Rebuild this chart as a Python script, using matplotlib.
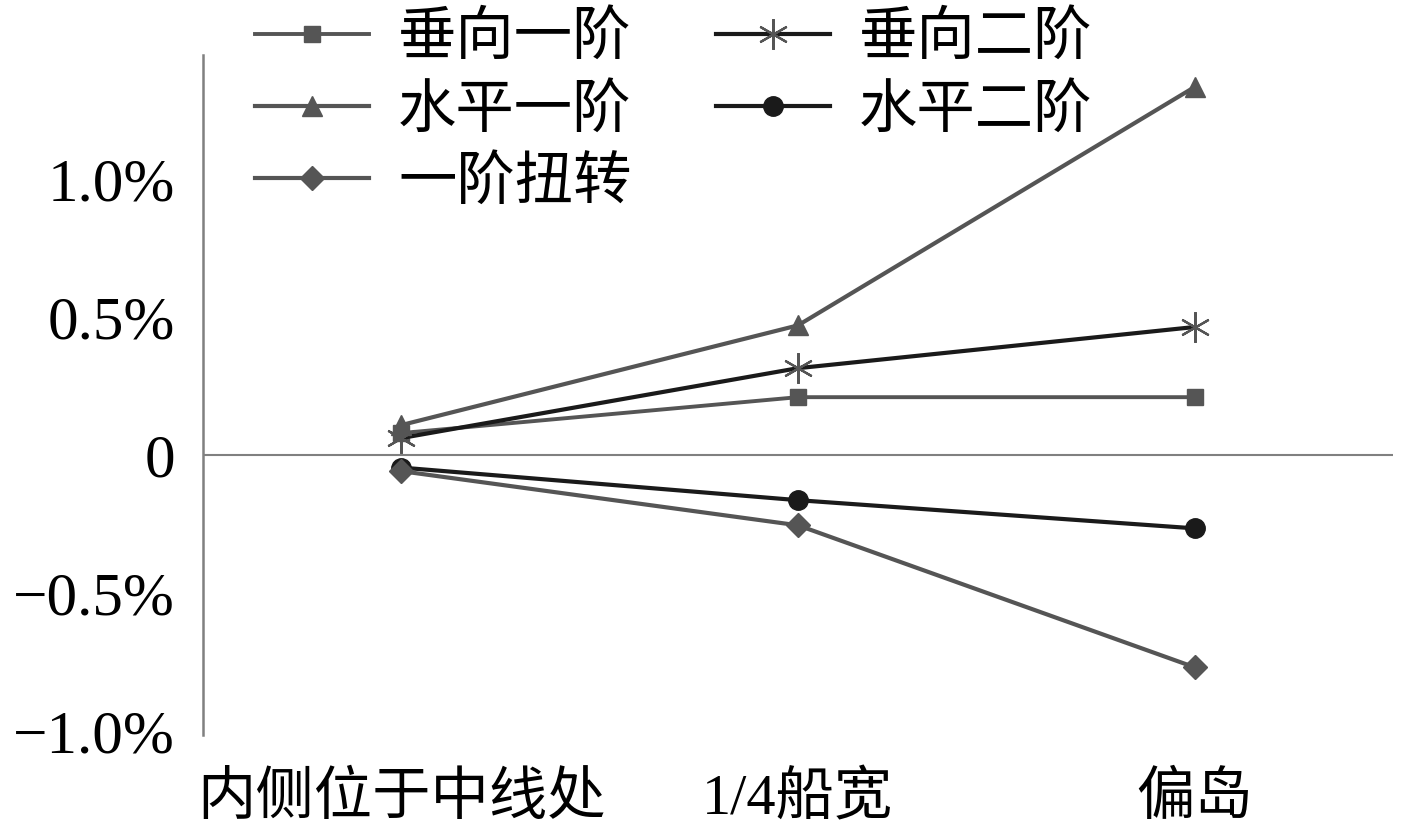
import matplotlib
matplotlib.use('Agg')
import matplotlib.pyplot as plt

plt.rcParams['font.family'] = ['Liberation Serif', 'Noto Sans CJK SC']

positions = ['内侧位于中线处', '1/4船宽', '偏岛']
ytick_vals = [-1.0, -0.5, 0, 0.5, 1.0]
ytick_labels = ['\u22121.0%', '\u22120.5%', '0', '0.5%', '1.0%']

# values in %
vert1 = [0.08, 0.21, 0.21]
vert2 = [0.062, 0.315, 0.464]
horz1 = [0.109, 0.47, 1.333]
horz2 = [-0.045, -0.163, -0.265]
tors1 = [-0.058, -0.254, -0.768]

grey = '#555555'
dark = '#1a1a1a'

fig = plt.figure(figsize=(14.17, 8.27), dpi=100)
ax = fig.add_axes([0.1433, 0.111, 0.8397, 0.8225])

x = range(len(positions))
l1, = ax.plot(x, vert1, color=grey, lw=2.8, marker='s', ms=12, label='垂向一阶')
l2, = ax.plot(x, vert2, color=dark, lw=3, marker=(6, 2, 0), ms=22,
              mec=grey, mew=1.6, label='垂向二阶')
l3, = ax.plot(x, horz1, color=grey, lw=3, marker='^', ms=15, label='水平一阶')
l4, = ax.plot(x, horz2, color=dark, lw=3, marker='o', ms=14, label='水平二阶')
l5, = ax.plot(x, tors1, color=grey, lw=3, marker='D', ms=12, label='一阶扭转')

ax.axhline(0, color='#808080', lw=1.5, zorder=0)

ax.set_xlim(-0.5, 2.5)
ax.set_ylim(-1.014, 1.449)
ax.set_xticks(list(x))
ax.set_xticklabels(positions, fontsize=42)
ax.set_yticks(ytick_vals)
ax.set_yticklabels(ytick_labels, fontsize=44)
ax.tick_params(axis='x', length=0, pad=26)
ax.tick_params(axis='y', length=0, pad=20)

for s in ['top', 'right', 'bottom']:
    ax.spines[s].set_visible(False)
ax.spines['left'].set_color('#808080')
ax.spines['left'].set_linewidth(1.8)

fig.legend(handles=[l1, l3, l5, l2, l4], loc='upper left',
           bbox_to_anchor=(0.178, 0.99), ncol=2, frameon=False,
           fontsize=42, handlelength=1.95, handletextpad=0.5,
           columnspacing=1.45, labelspacing=0.3, borderaxespad=0,
           borderpad=0.05)

fig.savefig('out.png', dpi=100)
